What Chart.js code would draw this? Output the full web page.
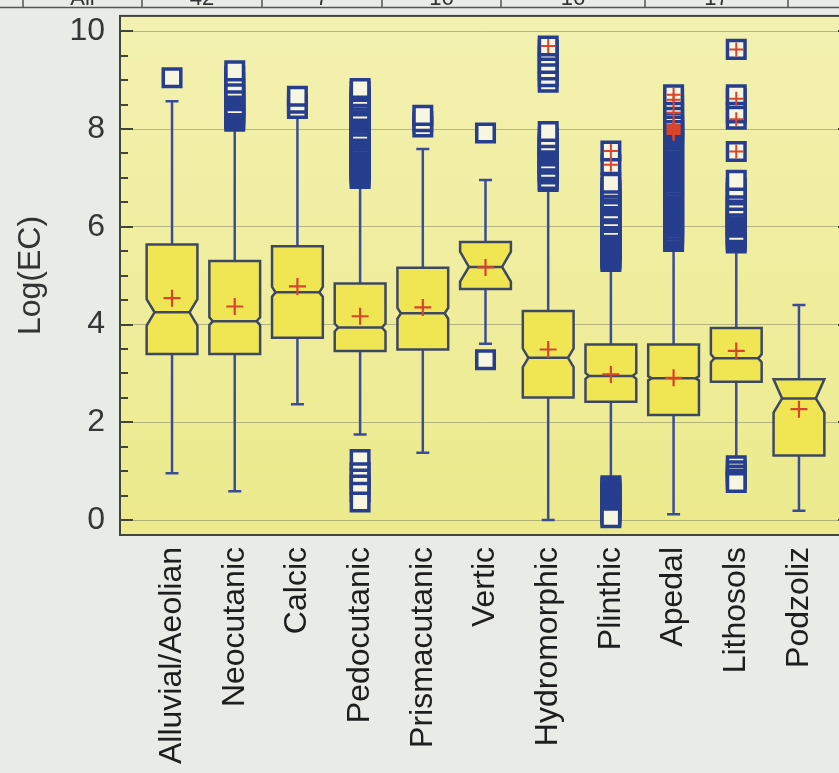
<!DOCTYPE html>
<html>
<head>
<meta charset="utf-8">
<script src="https://cdn.jsdelivr.net/npm/chart.js@4.4.1/dist/chart.umd.min.js"></script>
<style>
  html, body { margin: 0; padding: 0; overflow: hidden; background: #e9ebe7; width: 839px; height: 773px; }
  #wrap { width: 870px; height: 773px; }
</style>
</head>
<body>
<div id="wrap"><canvas id="chart" width="870" height="773"></canvas></div>
<script>
// Soil groups and the distribution of Log(EC) in each
const categories = ['Alluvial/Aeolian', 'Neocutanic', 'Calcic', 'Pedocutanic', 'Prismacutanic', 'Vertic',
                    'Hydromorphic', 'Plinthic', 'Apedal', 'Lithosols', 'Podzoliz'];

const q1          = [3.40, 3.40, 3.73, 3.46, 3.49, 4.73, 2.51, 2.42, 2.15, 2.83, 1.32];
const median      = [4.25, 4.07, 4.66, 3.94, 4.23, 5.18, 3.32, 2.95, 2.90, 3.31, 2.49];
const q3          = [5.64, 5.30, 5.60, 4.84, 5.16, 5.69, 4.28, 3.59, 3.59, 3.93, 2.88];
const notchLow    = [3.98, 3.99, 4.57, 3.86, 4.12, 4.88, 3.13, 2.89, 2.86, 3.23, 2.20];
const notchHigh   = [4.52, 4.15, 4.77, 4.02, 4.34, 5.49, 3.51, 3.01, 2.94, 3.39, 2.88];
const whiskerLow  = [0.96, 0.59, 2.37, 1.75, 1.38, 3.61, 0.00, 0.85, 0.12, 1.25, 0.19];
const whiskerHigh = [8.57, 8.10, 8.35, 6.95, 7.59, 6.96, 6.85, 5.20, 5.62, 5.60, 4.40];
const means       = [4.54, 4.37, 4.78, 4.17, 4.35, 5.17, 3.49, 2.98, 2.91, 3.46, 2.27];

// Points outside the whiskers, per group
const outliers = [
  [9.05],
  [8.16, 8.21, 8.27, 8.32, 8.38, 8.43, 8.47, 8.58, 8.64, 8.70, 8.76, 8.83, 8.94, 9.08, 9.19],
  [8.42, 8.53, 8.67],
  [0.37, 0.57, 0.72, 0.84, 0.97, 1.24,
   6.99, 7.04, 7.10, 7.15, 7.21, 7.26, 7.31, 7.37, 7.42, 7.48, 7.53, 7.59, 7.64, 7.69, 7.75, 7.80,
   7.86, 7.91, 7.95, 8.06, 8.12, 8.17, 8.23, 8.29, 8.36, 8.47, 8.53, 8.59, 8.66, 8.77, 8.83],
  [8.04, 8.15, 8.28],
  [3.28, 7.92],
  [6.93, 6.97, 7.08, 7.13, 7.17, 7.28, 7.34, 7.45, 7.51, 7.57, 7.62, 7.67, 7.71, 7.82, 7.95,
   8.96, 9.07, 9.21, 9.34, 9.49, 9.61, 9.70],
  [0.05, 0.10, 0.15, 0.19, 0.24, 0.29, 0.33, 0.38, 0.43, 0.47, 0.52, 0.56, 0.61, 0.66, 0.70,
   5.29, 5.34, 5.38, 5.43, 5.48, 5.52, 5.57, 5.62, 5.66, 5.71, 5.76, 5.80, 5.85, 5.90, 5.94, 5.98,
   6.09, 6.13, 6.16, 6.27, 6.32, 6.43, 6.48, 6.53, 6.57, 6.67, 6.73, 6.80, 6.89, 7.27, 7.55],
  [5.70, 5.76, 5.82, 5.87, 5.93, 5.99, 6.05, 6.10, 6.16, 6.22, 6.28, 6.33, 6.39, 6.45, 6.51, 6.56,
   6.62, 6.68, 6.74, 6.79, 6.85, 6.91, 6.97, 7.02, 7.08, 7.14, 7.20, 7.25, 7.31, 7.37, 7.43, 7.48,
   7.54, 7.60, 7.66, 7.71, 7.77, 7.83, 7.88, 7.90, 7.93, 7.96, 7.99, 8.02, 8.05, 8.08, 8.12, 8.18,
   8.24, 8.33, 8.42, 8.50, 8.60, 8.70],
  [0.77, 0.84, 0.92, 1.01, 1.11,
   5.67, 5.72, 5.77, 5.82, 5.88, 5.99, 6.04, 6.10, 6.15, 6.21, 6.26, 6.31, 6.36, 6.42, 6.54, 6.65,
   6.70, 6.79, 6.95, 7.54, 8.20, 8.33, 8.62, 8.70, 9.63],
  []
];

// Far-outside points (marked with a cross inside the square)
const farOutliers = [[], [], [], [], [], [], [9.70], [7.27, 7.55],
  [7.90, 7.93, 7.96, 7.99, 8.02, 8.05, 8.08, 8.33, 8.60, 8.70],
  [7.54, 8.20, 8.62, 9.63], []];

// Header row of the summary table above the plot
const tableLabels = ['All', '42', '7', '16', '16', '17'];

const yTicks = [0, 2, 4, 6, 8, 10];

const FONT = "'Liberation Sans', Arial, Helvetica, sans-serif";
const BOX_FRACTION = 0.81;

// Order points so the ones furthest from the median are painted last
function pointsFor(lists) {
  const pts = [];
  lists.forEach((vals, i) => {
    vals.slice()
      .sort((a, b) => Math.abs(a - median[i]) - Math.abs(b - median[i]))
      .forEach(v => pts.push({ x: i, y: v }));
  });
  return pts;
}

const pageAndPlotBackground = {
  id: 'pageAndPlotBackground',
  beforeDraw(chart) {
    const { ctx, chartArea: a } = chart;
    ctx.save();
    ctx.fillStyle = '#e9ebe7';
    ctx.fillRect(0, 0, chart.width, chart.height);
    const g = ctx.createLinearGradient(0, a.top, 0, a.bottom);
    g.addColorStop(0, '#f3f1b0');
    g.addColorStop(1, '#ecea8c');
    ctx.fillStyle = g;
    ctx.fillRect(a.left, a.top, a.right - a.left, a.bottom - a.top);
    ctx.restore();
  }
};

const frameAndInnerTicks = {
  id: 'frameAndInnerTicks',
  beforeDatasetsDraw(chart) {
    const { ctx, chartArea: a, scales: { y } } = chart;
    ctx.save();
    ctx.strokeStyle = '#44453a';
    ctx.lineWidth = 2;
    ctx.beginPath();
    for (let k = Math.ceil(y.min * 2); k <= Math.floor(y.max * 2); k++) {
      const py = Math.round(y.getPixelForValue(k / 2));
      const len = (k % 4 === 0) ? 13 : 8;
      ctx.moveTo(a.left, py); ctx.lineTo(a.left + len, py);
      ctx.moveTo(a.right, py); ctx.lineTo(a.right - len, py);
    }
    ctx.stroke();
    ctx.strokeRect(a.left, a.top, a.right - a.left, a.bottom - a.top);
    ctx.restore();
  }
};

const notchedBoxes = {
  id: 'notchedBoxes',
  beforeDatasetsDraw(chart) {
    const { ctx, scales: { x, y } } = chart;
    ctx.save();
    categories.forEach((_, i) => {
      const cx = x.getPixelForValue(i);
      const hw = x.getPixelForValue(i + BOX_FRACTION / 2) - cx;
      const L = cx - hw, R = cx + hw;
      const top = y.getPixelForValue(Math.max(q3[i], notchHigh[i]));
      const bot = y.getPixelForValue(Math.min(q1[i], notchLow[i]));
      const nHi = y.getPixelForValue(notchHigh[i]);
      const nLo = y.getPixelForValue(notchLow[i]);
      const med = y.getPixelForValue(median[i]);
      const wHi = y.getPixelForValue(whiskerHigh[i]);
      const wLo = y.getPixelForValue(whiskerLow[i]);
      const inset = Math.min(11, Math.max(3.5, 0.6 * Math.min(med - nHi, nLo - med)));

      // whiskers and caps
      ctx.strokeStyle = '#3a4e98';
      ctx.lineWidth = 2.5;
      ctx.beginPath();
      ctx.moveTo(cx, top); ctx.lineTo(cx, wHi);
      ctx.moveTo(cx - 6.5, wHi); ctx.lineTo(cx + 6.5, wHi);
      ctx.moveTo(cx, bot); ctx.lineTo(cx, wLo);
      ctx.moveTo(cx - 6.5, wLo); ctx.lineTo(cx + 6.5, wLo);
      ctx.stroke();

      // notched box
      ctx.beginPath();
      ctx.moveTo(L, top); ctx.lineTo(R, top); ctx.lineTo(R, nHi);
      ctx.lineTo(R - inset, med); ctx.lineTo(R, nLo); ctx.lineTo(R, bot);
      ctx.lineTo(L, bot); ctx.lineTo(L, nLo); ctx.lineTo(L + inset, med);
      ctx.lineTo(L, nHi); ctx.closePath();
      ctx.fillStyle = '#f0e654';
      ctx.fill();
      ctx.strokeStyle = '#3f4862';
      ctx.lineWidth = 2.5;
      ctx.lineJoin = 'miter';
      ctx.stroke();

      // median line
      ctx.beginPath();
      ctx.moveTo(L + inset, med); ctx.lineTo(R - inset, med);
      ctx.stroke();
    });
    ctx.restore();
  }
};

const tableHeader = {
  id: 'tableHeader',
  afterDraw(chart) {
    const { ctx } = chart;
    const rules = [23, 142, 262, 382, 501, 645, 788];
    ctx.save();
    ctx.strokeStyle = '#55564c';
    ctx.lineWidth = 1.5;
    ctx.beginPath();
    ctx.moveTo(0, 7.5); ctx.lineTo(chart.width, 7.5);
    rules.forEach(rx => { ctx.moveTo(rx, 0); ctx.lineTo(rx, 7.5); });
    ctx.stroke();
    ctx.fillStyle = '#333333';
    ctx.font = '22px ' + FONT;
    ctx.textAlign = 'center';
    ctx.textBaseline = 'alphabetic';
    tableLabels.forEach((t, k) => {
      ctx.fillText(t, (rules[k] + rules[k + 1]) / 2, 4.5);
    });
    ctx.restore();
  }
};

new Chart(document.getElementById('chart'), {
  type: 'scatter',
  data: {
    datasets: [
      {
        label: 'Means',
        data: means.map((m, i) => ({ x: i, y: m })),
        pointStyle: 'cross',
        pointRadius: 8.5,
        pointBorderWidth: 2.2,
        pointBorderColor: '#d4472d',
        order: 1
      },
      {
        label: 'Far outside',
        data: pointsFor(farOutliers),
        pointStyle: 'cross',
        pointRadius: 7,
        pointBorderWidth: 2,
        pointBorderColor: '#d9442a',
        order: 2
      },
      {
        label: 'Outside',
        data: pointsFor(outliers),
        pointStyle: 'rect',
        pointRadius: 12.4,
        pointBorderWidth: 3.5,
        pointBorderColor: '#273e8e',
        pointBackgroundColor: '#f7f6e0',
        order: 3
      }
    ]
  },
  options: {
    responsive: false,
    devicePixelRatio: 1,
    animation: false,
    events: [],
    layout: { padding: { left: 0, right: 19, top: 12, bottom: 0 } },
    plugins: { legend: { display: false }, tooltip: { enabled: false } },
    scales: {
      x: {
        type: 'linear',
        min: -0.83,
        max: 10.83,
        afterBuildTicks: s => { s.ticks = categories.map((_, i) => ({ value: i })); },
        afterFit: s => { s.height = 238; s.paddingLeft = 0; s.paddingRight = 0; },
        grid: { display: false, drawTicks: false },
        border: { display: false },
        ticks: {
          autoSkip: false,
          minRotation: 90,
          maxRotation: 90,
          padding: 12,
          color: '#1e1e1e',
          font: { family: FONT, size: 32 },
          callback: v => categories[v]
        }
      },
      y: {
        min: -0.305,
        max: 10.315,
        afterBuildTicks: s => { s.ticks = yTicks.map(v => ({ value: v })); },
        afterFit: s => { s.width = 120; s.paddingTop = 0; s.paddingBottom = 0; },
        grid: { color: 'rgba(110,110,90,0.45)', lineWidth: 1, drawTicks: false },
        border: { display: false },
        ticks: {
          padding: 15,
          color: '#363636',
          font: { family: FONT, size: 32 }
        },
        title: {
          display: true,
          text: 'Log(EC)',
          color: '#333333',
          font: { family: FONT, size: 32 },
          padding: { top: 12, bottom: 0 }
        }
      }
    }
  },
  plugins: [pageAndPlotBackground, frameAndInnerTicks, notchedBoxes, tableHeader]
});
</script>
</body>
</html>
